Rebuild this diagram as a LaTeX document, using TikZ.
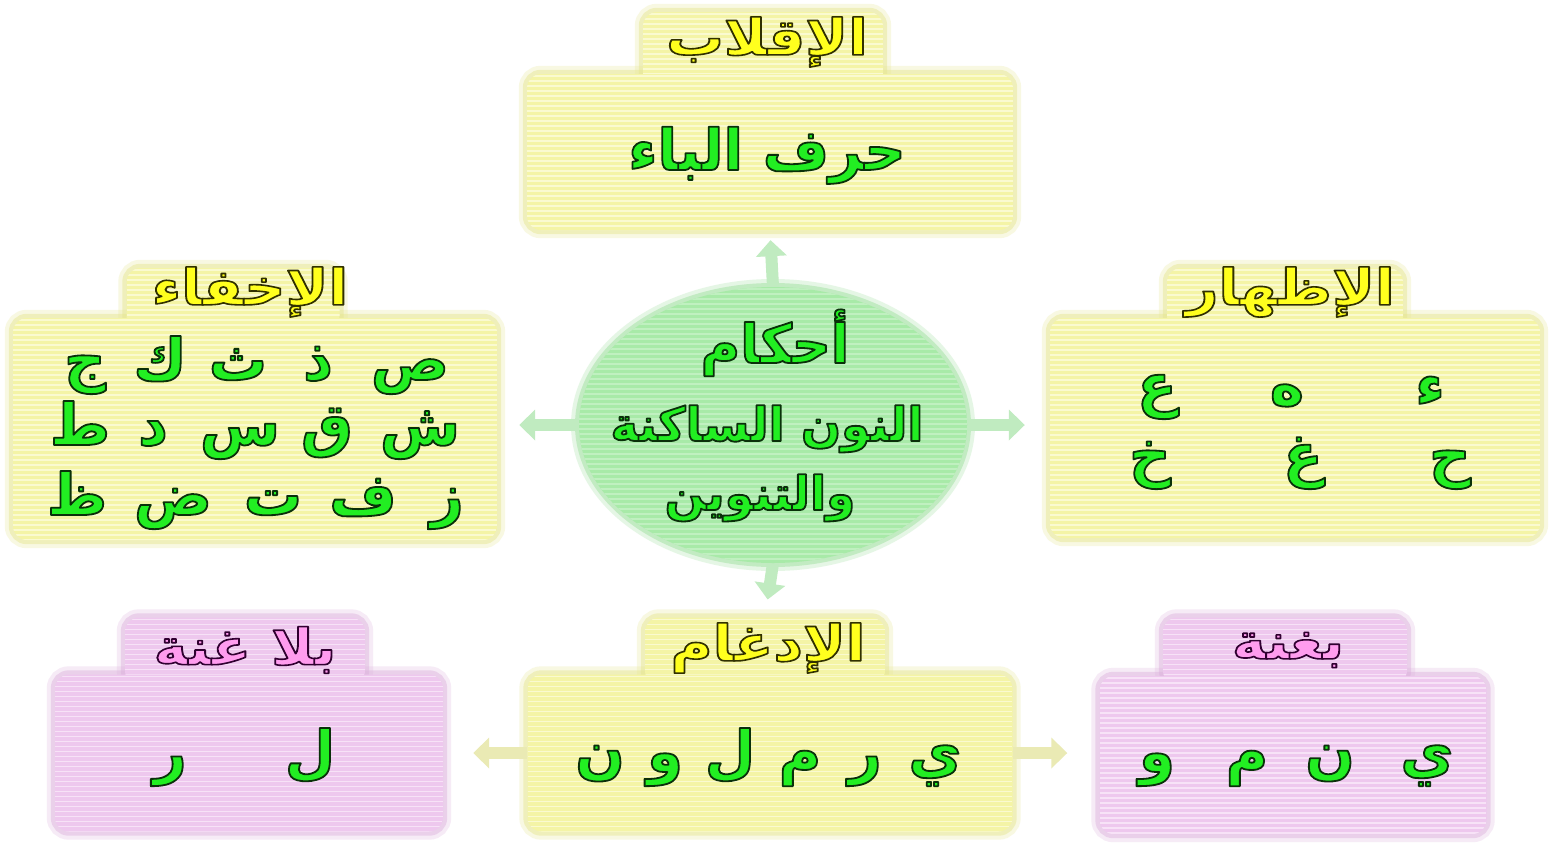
\documentclass[tikz,border=0pt]{standalone}
\usepackage{fontspec}
\usetikzlibrary{arrows.meta,shapes.geometric}
\TeXXeTstate=1
\newfontfamily\arf[Script=Arabic]{DejaVu Sans Bold}
\definecolor{yfill}{HTML}{F4F4A6}
\definecolor{ystripe}{HTML}{FAFAD0}
\definecolor{yglow}{HTML}{E6E68C}
\definecolor{pfill}{HTML}{EEC8EE}
\definecolor{pstripe}{HTML}{F7E2F7}
\definecolor{pglow}{HTML}{DDB0DD}
\definecolor{gfill}{HTML}{A8EAA8}
\definecolor{gstripe}{HTML}{C0F0C0}
\definecolor{gglow}{HTML}{98DE98}
\definecolor{lgreen}{HTML}{22EE22}
\definecolor{tyel}{HTML}{FFFF1E}
\definecolor{tpink}{HTML}{FF9CEE}
\definecolor{garr}{HTML}{C0EBC0}
\definecolor{yarr}{HTML}{EAEAB4}
% one text, filled in colour #1 and stroked in RGB #2 (pdf text render mode 2)
\newcommand\outl[4]{{\arf\color{#1}\special{pdf:code #2 RG 2 Tr #3 w 1 j}#4\special{pdf:code 0 Tr}}}
\newcommand\GrnTxt[1]{\outl{lgreen}{0.04 0.19 0.04}{1.8}{#1}}
\newcommand\YelTxt[1]{\scalebox{1.15}[1]{\outl{tyel}{0.19 0.19 0}{1.6}{#1}}}
\newcommand\PnkTxt[1]{\scalebox{1.15}[1]{\outl{tpink}{0.19 0 0.19}{1.6}{#1}}}
\pgfdeclarelayer{background}
\pgfsetlayers{background,main}
\tikzset{
  stripes/.style={path picture={\foreach \k in {0,...,60}{\draw[#1, line width=1.5pt] ([yshift=-\k*5pt-2pt]path picture bounding box.north west) -- ([yshift=-\k*5pt-2pt]path picture bounding box.north east);}}},
  panel/.style={rectangle, rounded corners=14pt, inner sep=0pt, draw=none},
  ybox/.style={panel, fill=yfill, stripes=ystripe},
  pbox/.style={panel, fill=pfill, stripes=pstripe},
  gbox/.style={ellipse, inner sep=0pt, draw=none, fill=gfill, stripes=gstripe},
  lett/.style={anchor=base, inner sep=0pt, font=\fontsize{58}{62}\selectfont},
  ttl/.style={anchor=center, inner sep=0pt, font=\fontsize{50}{54}\selectfont},
  ctr/.style={anchor=base, inner sep=0pt, font=\fontsize{47}{50}\selectfont},
  glowA/.style={draw=#1, line width=16pt, opacity=.25, rounded corners=14pt},
  glowB/.style={draw=#1, line width=8pt, opacity=.45, rounded corners=14pt},
  stub/.style={line width=12pt, draw=#1, -{Triangle[width=30pt,length=16pt]}},
}
\begin{document}
\begin{tikzpicture}[x=1pt,y=-1pt]
\useasboundingbox (0,0) rectangle (1554,846);
% panels
\node[ybox, minimum width=240, minimum height=78] (iqT) at (763,51) {};
\node[ybox, minimum width=486, minimum height=156] (iqB) at (770,152) {};
\node[ybox, minimum width=213, minimum height=62] (ikT) at (233,299) {};
\node[ybox, minimum width=484, minimum height=222] (ikB) at (255,429) {};
\node[ybox, minimum width=236, minimum height=62] (izT) at (1285,299) {};
\node[ybox, minimum width=490, minimum height=220] (izB) at (1295,428) {};
\node[pbox, minimum width=240, minimum height=67] (blT) at (245,651) {};
\node[pbox, minimum width=388, minimum height=157] (blB) at (249,753) {};
\node[ybox, minimum width=240, minimum height=67] (idT) at (765,651) {};
\node[ybox, minimum width=485, minimum height=157] (idB) at (770,753) {};
\node[pbox, minimum width=244, minimum height=67] (bgT) at (1285,651) {};
\node[pbox, minimum width=387, minimum height=158] (bgB) at (1293,755) {};
\node[gbox, minimum width=388, minimum height=276] (cen) at (773,425) {};
% glows and connectors behind the panels
\begin{pgfonlayer}{background}
\fill[white] (0,0) rectangle (1554,846);
\foreach \n in {iqT,iqB,ikT,ikB,izT,izB,idT,idB}{
  \path[glowA=yglow] (\n.south west) rectangle (\n.north east);
  \path[glowB=yglow] (\n.south west) rectangle (\n.north east);}
\foreach \n in {blT,blB,bgT,bgB}{
  \path[glowA=pglow] (\n.south west) rectangle (\n.north east);
  \path[glowB=pglow] (\n.south west) rectangle (\n.north east);}
\path[draw=gglow, line width=16pt, opacity=.25] (cen.center) ellipse [x radius=194, y radius=138];
\path[draw=gglow, line width=8pt, opacity=.45] (cen.center) ellipse [x radius=194, y radius=138];
\draw[stub=garr, shorten >=10pt] (cen.north) -- (iqB.south);
\draw[stub=garr, shorten >=22pt] (cen.west) -- (cen.west -| ikB.east);
\draw[stub=garr, shorten >=25pt] (cen.east) -- (cen.east -| izB.west);
\draw[stub=garr, shorten >=18pt] (cen.south) -- (idT.north);
\draw[stub=yarr, shorten >=30pt] (idB.west) -- (idB.west -| blB.east);
\draw[stub=yarr, shorten >=32pt] (idB.east) -- (idB.east -| bgB.west);
\end{pgfonlayer}
% titles
\node[ttl] (iqTt) at (767,42) {\YelTxt{الإقلاب}};
\node[ttl] (ikTt) at (250,292) {\YelTxt{الإخفاء}};
\node[ttl] (izTt) at (1290,292) {\YelTxt{الإظهار}};
\node[ttl] (idTt) at (768,648) {\YelTxt{الإدغام}};
\node[ttl] (blTt) at (245,650) {\PnkTxt{\beginR بلا غنة\endR}};
\node[ttl] (bgTt) at (1288,650) {\PnkTxt{بغنة}};
% top body
\node[lett, font=\fontsize{57}{60}\selectfont] (iqTx) at (767,170) {\GrnTxt{\beginR حرف الباء\endR}};
% centre
\node[ctr, font=\fontsize{54}{58}\selectfont] (c1) at (775,363) {\GrnTxt{أحكام}};
\node[ctr] (c2) at (767,441) {\GrnTxt{\beginR النون الساكنة\endR}};
\node[ctr] (c3) at (760,510) {\GrnTxt{والتنوين}};
% ikhfaa letters
\foreach \c/\x/\y [count=\i] in {ص/410/380,ذ/318/380,ث/238/380,ك/160/380,ج/85/380,
  ش/420/445,ق/327/445,س/240/445,د/153/445,ط/80/445,
  ز/447/515,ف/363/515,ت/273/515,ض/173/515,ظ/77/515}
  \node[lett] (ik\i) at (\x,\y) {\GrnTxt{\c}};
% izhar letters
\foreach \c/\x/\y [count=\i] in {ء/1430/405,ه/1287/405,ع/1157/405,ح/1450/475,غ/1303/475,خ/1150/475}
  \node[lett] (iz\i) at (\x,\y) {\GrnTxt{\c}};
% idgham
\foreach \c/\x [count=\i] in {ي/935,ر/865,م/800,ل/730,و/665,ن/600}
  \node[lett] (id\i) at (\x,772) {\GrnTxt{\c}};
% bila ghunna
\foreach \c/\x [count=\i] in {ل/310,ر/170}
  \node[lett] (bl\i) at (\x,772) {\GrnTxt{\c}};
% bighunna
\foreach \c/\x [count=\i] in {ي/1427,ن/1330,م/1247,و/1157}
  \node[lett] (bg\i) at (\x,772) {\GrnTxt{\c}};
\end{tikzpicture}
\end{document}
